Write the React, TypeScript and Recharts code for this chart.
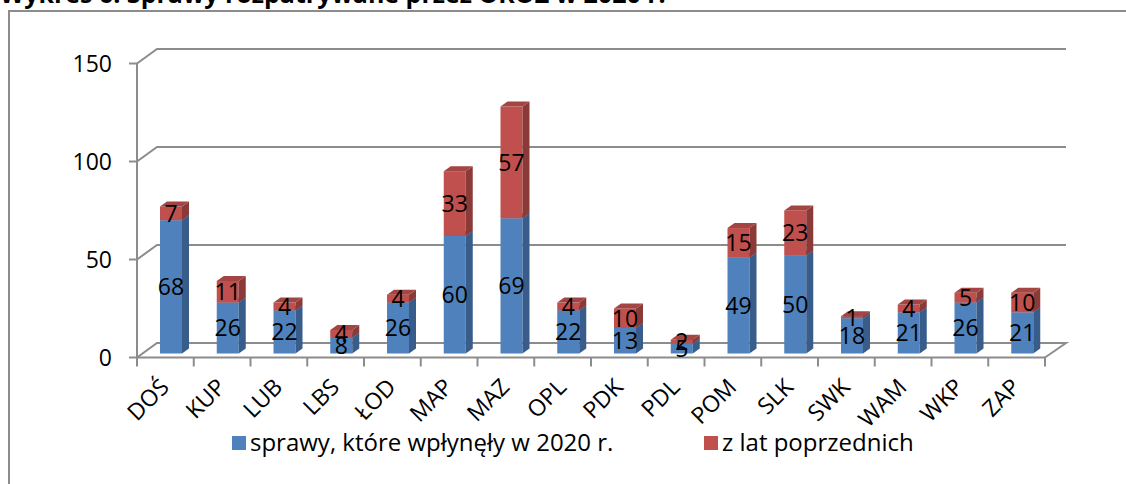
import React from 'react';
import { BarChart, Bar, XAxis, YAxis, CartesianGrid, Legend, LabelList } from 'recharts';

const categories = ['DOŚ', 'KUP', 'LUB', 'LBS', 'ŁOD', 'MAP', 'MAZ', 'OPL', 'PDK', 'PDL', 'POM', 'SLK', 'SWK', 'WAM', 'WKP', 'ZAP'];
const received2020 = [68, 26, 22, 8, 26, 60, 69, 22, 13, 5, 49, 50, 18, 21, 26, 21];
const previousYears = [7, 11, 4, 4, 4, 33, 57, 4, 10, 2, 15, 23, 1, 4, 5, 10];
const yTicks = [0, 50, 100, 150];

const data = categories.map((name, i) => ({ name, received: received2020[i], previous: previousYears[i] }));

const FONT = '"Open Sans", Lato, sans-serif';
const GRID = '#8c8c8c';
const BAND = (1045 - 137) / categories.length;
// 3d offsets: back wall and bar depth
const WALL_DX = 20;
const WALL_DY = 14.5;
const BAR_DX = 6;
const BAR_DY = 4;
const DEPTH_X = 7;
const DEPTH_Y = 5;

const BLUE = { front: '#4f81bd', side: '#385d8a', top: '#4573a8' };
const RED = { front: '#c0504d', side: '#8c3a37', top: '#a34542' };

const makeBar = (c: typeof BLUE) => (props: any) => {
  const { x, y, width, height } = props;
  if (!height || height <= 0) return <g />;
  const fx = x + BAR_DX;
  const fy = y - BAR_DY;
  const r = fx + width;
  return (
    <g>
      <rect x={fx} y={fy} width={width} height={height} fill={c.front} />
      <polygon
        points={`${r},${fy} ${r + DEPTH_X},${fy - DEPTH_Y} ${r + DEPTH_X},${fy + height - DEPTH_Y} ${r},${fy + height}`}
        fill={c.side}
      />
      <polygon
        points={`${fx},${fy} ${fx + DEPTH_X},${fy - DEPTH_Y} ${r + DEPTH_X},${fy - DEPTH_Y} ${r},${fy}`}
        fill={c.top}
      />
    </g>
  );
};

const SegmentLabel = (props: any) => {
  const { x, y, width, height, value } = props;
  return (
    <text
      x={x + width / 2 + BAR_DX}
      y={y + height / 2 - BAR_DY}
      dy="0.36em"
      textAnchor="middle"
      fontSize={23}
      fontFamily={FONT}
      fill="#000"
    >
      {value}
    </text>
  );
};

const gridLine = (props: any) => {
  const { x1, x2, y1, index } = props;
  const by = y1 - WALL_DY;
  let d = `M${x1},${y1} L${x1 + WALL_DX},${by} L${x2 + WALL_DX + 1},${by}`;
  if (Math.abs(y1 - 357.5) < 1) d += ` L${x2},${y1}`;
  return <path key={`g-${index}-${y1}`} d={d} stroke={GRID} strokeWidth={2} fill="none" />;
};

const CategoryTick = (props: any) => {
  const { x, y, payload, index } = props;
  const last = index === categories.length - 1;
  return (
    <g>
      <line x1={x - BAND / 2} y1={y} x2={x - BAND / 2} y2={y + 9} stroke={GRID} strokeWidth={2} />
      {last && <line x1={x + BAND / 2} y1={y} x2={x + BAND / 2} y2={y + 9} stroke={GRID} strokeWidth={2} />}
      <text
        x={x + 5}
        y={y + 31}
        transform={`rotate(-45, ${x + 5}, ${y + 31})`}
        textAnchor="end"
        fontSize={23}
        fontFamily={FONT}
        fill="#000"
      >
        {payload.value}
      </text>
    </g>
  );
};

const LegendBox = () => (
  <div style={{ position: 'relative', width: 1126, height: 40, fontFamily: FONT, fontSize: 24 }}>
    <div style={{ position: 'absolute', left: 232, top: 8, width: 14, height: 14, background: BLUE.front }} />
    <div style={{ position: 'absolute', left: 250, top: -1, lineHeight: '30px' }}>sprawy, które wpłynęły w 2020 r.</div>
    <div style={{ position: 'absolute', left: 704, top: 8, width: 14, height: 14, background: RED.front }} />
    <div style={{ position: 'absolute', left: 722, top: -1, lineHeight: '30px' }}>z lat poprzednich</div>
  </div>
);

export default function App() {
  return (
    <div style={{ position: 'fixed', left: 0, top: 0, width: 1126, height: 484, overflow: 'hidden', background: '#fff' }}>
      <div
        style={{
          position: 'absolute',
          left: 8,
          top: 10,
          width: 1300,
          height: 600,
          borderLeft: `2px solid ${GRID}`,
          borderTop: `2px solid ${GRID}`,
        }}
      />
      <div
        style={{
          position: 'absolute',
          left: 0,
          top: -22,
          fontFamily: FONT,
          fontWeight: 700,
          fontSize: 25,
          lineHeight: '30px',
          whiteSpace: 'nowrap',
          color: '#000',
        }}
      >
        Wykres 6. Sprawy rozpatrywane przez OROZ w 2020 r.
      </div>
      <div style={{ position: 'absolute', left: 0, top: 0 }}>
        <BarChart
          width={1126}
          height={484}
          data={data}
          margin={{ top: 63.5, right: 81, left: 77, bottom: 66.5 }}
          barSize={22}
        >
          <CartesianGrid horizontal={gridLine} vertical={false} />
          <XAxis
            dataKey="name"
            interval={0}
            height={60}
            tickSize={0}
            tickMargin={0}
            tickLine={false}
            axisLine={{ stroke: GRID, strokeWidth: 2 }}
            tick={<CategoryTick />}
          />
          <YAxis
            width={60}
            domain={[0, 150]}
            ticks={yTicks}
            tickSize={8}
            tickMargin={17}
            axisLine={{ stroke: GRID, strokeWidth: 2 }}
            tickLine={{ stroke: GRID, strokeWidth: 2 }}
            tick={{ fill: '#000', fontSize: 23, fontFamily: FONT }}
          />
          <Legend
            verticalAlign="middle"
            align="center"
            wrapperStyle={{ left: 0, top: 428, width: 1126 }}
            content={<LegendBox />}
          />
          <Bar dataKey="received" stackId="a" name="sprawy, które wpłynęły w 2020 r." shape={makeBar(BLUE)} isAnimationActive={false}>
            <LabelList dataKey="received" content={<SegmentLabel />} />
          </Bar>
          <Bar dataKey="previous" stackId="a" name="z lat poprzednich" shape={makeBar(RED)} isAnimationActive={false}>
            <LabelList dataKey="previous" content={<SegmentLabel />} />
          </Bar>
        </BarChart>
      </div>
    </div>
  );
}
